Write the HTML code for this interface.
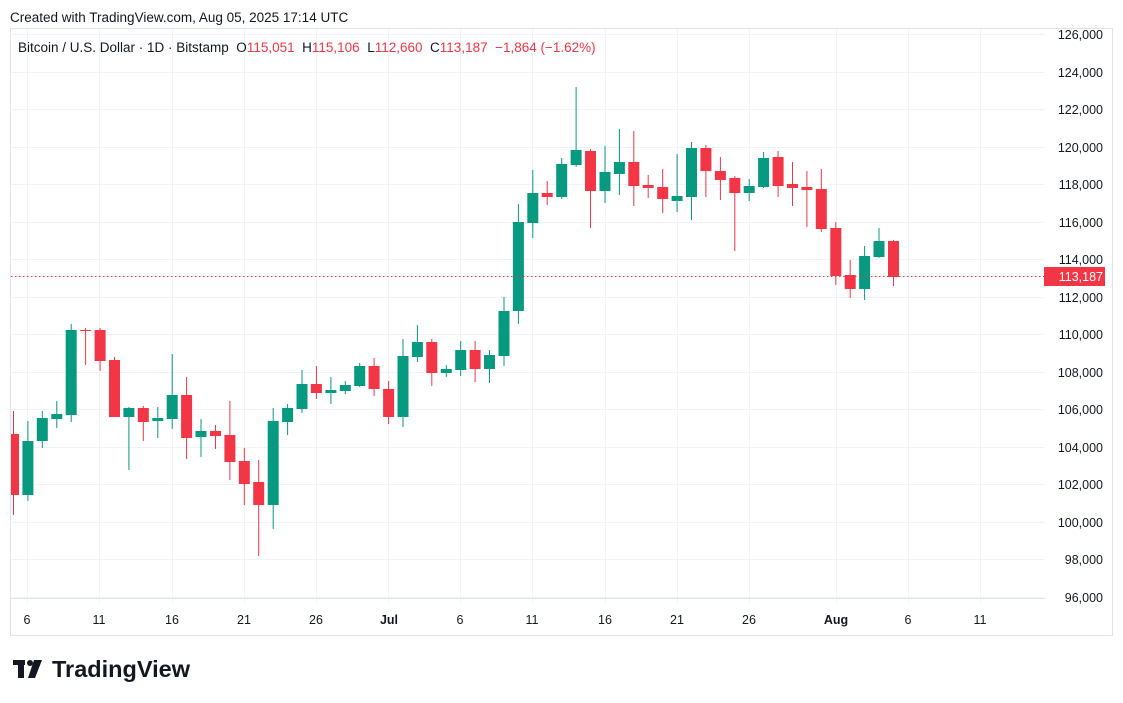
<!DOCTYPE html>
<html><head><meta charset="utf-8"><style>
html,body{margin:0;padding:0;background:#fff;width:1123px;height:703px;overflow:hidden}
svg{display:block;font-family:"Liberation Sans","DejaVu Sans",sans-serif}
.g{fill:#089981}.r{fill:#F23645}
.ax{font-size:12.5px;fill:#131722}
</style></head><body>
<svg width="1123" height="703" viewBox="0 0 1123 703" xmlns="http://www.w3.org/2000/svg">
<rect width="1123" height="703" fill="#fff"/>
<text x="10" y="22" font-size="13.5" fill="#131722">Created with TradingView.com, Aug 05, 2025 17:14 UTC</text>
<rect x="10.5" y="28.5" width="1102" height="607" fill="none" stroke="#e0e3eb"/>
<g stroke="#f0f3fa" stroke-width="1">
<line x1="11" x2="1045" y1="34.5" y2="34.5"/><line x1="11" x2="1045" y1="72.5" y2="72.5"/>
<line x1="11" x2="1045" y1="109.5" y2="109.5"/><line x1="11" x2="1045" y1="147.5" y2="147.5"/>
<line x1="11" x2="1045" y1="184.5" y2="184.5"/><line x1="11" x2="1045" y1="222.5" y2="222.5"/>
<line x1="11" x2="1045" y1="259.5" y2="259.5"/><line x1="11" x2="1045" y1="297.5" y2="297.5"/>
<line x1="11" x2="1045" y1="334.5" y2="334.5"/><line x1="11" x2="1045" y1="372.5" y2="372.5"/>
<line x1="11" x2="1045" y1="409.5" y2="409.5"/><line x1="11" x2="1045" y1="447.5" y2="447.5"/>
<line x1="11" x2="1045" y1="484.5" y2="484.5"/><line x1="11" x2="1045" y1="522.5" y2="522.5"/>
<line x1="11" x2="1045" y1="559.5" y2="559.5"/><line x1="11" x2="1045" y1="597.5" y2="597.5"/>
<line y1="29" y2="603" x1="27.5" x2="27.5"/><line y1="29" y2="603" x1="99.5" x2="99.5"/>
<line y1="29" y2="603" x1="172.5" x2="172.5"/><line y1="29" y2="603" x1="244.5" x2="244.5"/>
<line y1="29" y2="603" x1="316.5" x2="316.5"/><line y1="29" y2="603" x1="388.5" x2="388.5"/>
<line y1="29" y2="603" x1="460.5" x2="460.5"/><line y1="29" y2="603" x1="532.5" x2="532.5"/>
<line y1="29" y2="603" x1="605.5" x2="605.5"/><line y1="29" y2="603" x1="677.5" x2="677.5"/>
<line y1="29" y2="603" x1="749.5" x2="749.5"/><line y1="29" y2="603" x1="836.5" x2="836.5"/>
<line y1="29" y2="603" x1="908.5" x2="908.5"/><line y1="29" y2="603" x1="980.5" x2="980.5"/>
<line x1="11" x2="1045" y1="598.5" y2="598.5" stroke="#e0e3eb"/>
</g>
<text x="18" y="52" font-size="13.5" fill="#131722">Bitcoin / U.S. Dollar · 1D · Bitstamp&#160; O<tspan fill="#F23645">115,051</tspan>&#160; H<tspan fill="#F23645">115,106</tspan>&#160; L<tspan fill="#F23645">112,660</tspan>&#160; C<tspan fill="#F23645">113,187&#160; −1,864 (−1.62%)</tspan></text>
<svg x="11" y="29" width="1034" height="569" overflow="hidden"><g transform="translate(-11,-29)">
<rect class="r" x="13" y="411" width="1" height="104"/><rect class="r" x="8" y="434" width="11" height="61"/>
<rect class="g" x="27.4" y="421" width="1" height="80"/><rect class="g" x="22.4" y="441" width="11" height="54"/>
<rect class="g" x="41.8" y="411" width="1" height="37"/><rect class="g" x="36.8" y="418" width="11" height="23"/>
<rect class="g" x="56.3" y="401" width="1" height="27"/><rect class="g" x="51.3" y="414" width="11" height="5"/>
<rect class="g" x="70.7" y="324" width="1" height="98"/><rect class="g" x="65.7" y="330" width="11" height="85"/>
<rect class="r" x="85.1" y="328" width="1" height="37"/><rect class="r" x="80.1" y="330" width="11" height="1"/>
<rect class="r" x="99.6" y="328" width="1" height="43"/><rect class="r" x="94.6" y="330" width="11" height="31"/>
<rect class="r" x="114" y="357" width="1" height="60"/><rect class="r" x="109" y="360" width="11" height="57"/>
<rect class="g" x="128.4" y="407" width="1" height="63"/><rect class="g" x="123.4" y="408" width="11" height="9"/>
<rect class="r" x="142.8" y="406" width="1" height="35"/><rect class="r" x="137.8" y="408" width="11" height="14"/>
<rect class="g" x="157.3" y="407" width="1" height="31"/><rect class="g" x="152.3" y="418" width="11" height="3"/>
<rect class="g" x="171.7" y="354" width="1" height="75"/><rect class="g" x="166.7" y="395" width="11" height="24"/>
<rect class="r" x="186.1" y="377" width="1" height="82"/><rect class="r" x="181.1" y="395" width="11" height="43"/>
<rect class="g" x="200.5" y="419" width="1" height="38"/><rect class="g" x="195.5" y="431" width="11" height="6"/>
<rect class="r" x="215" y="425" width="1" height="24"/><rect class="r" x="210" y="431" width="11" height="5"/>
<rect class="r" x="229.4" y="401" width="1" height="79"/><rect class="r" x="224.4" y="435" width="11" height="27"/>
<rect class="r" x="243.8" y="448" width="1" height="57"/><rect class="r" x="238.8" y="461" width="11" height="23"/>
<rect class="r" x="258.2" y="460" width="1" height="96"/><rect class="r" x="253.2" y="482" width="11" height="23"/>
<rect class="g" x="272.7" y="408" width="1" height="121"/><rect class="g" x="267.7" y="421" width="11" height="84"/>
<rect class="g" x="287.1" y="404" width="1" height="31"/><rect class="g" x="282.1" y="408" width="11" height="14"/>
<rect class="g" x="301.5" y="370" width="1" height="43"/><rect class="g" x="296.5" y="384" width="11" height="25"/>
<rect class="r" x="315.9" y="366" width="1" height="33"/><rect class="r" x="310.9" y="384" width="11" height="9"/>
<rect class="g" x="330.4" y="377" width="1" height="27"/><rect class="g" x="325.4" y="390" width="11" height="3"/>
<rect class="g" x="344.8" y="381" width="1" height="13"/><rect class="g" x="339.8" y="385" width="11" height="6"/>
<rect class="g" x="359.2" y="363" width="1" height="24"/><rect class="g" x="354.2" y="366" width="11" height="20"/>
<rect class="r" x="373.6" y="358" width="1" height="38"/><rect class="r" x="368.6" y="366" width="11" height="23"/>
<rect class="r" x="388.1" y="381" width="1" height="43"/><rect class="r" x="383.1" y="389" width="11" height="28"/>
<rect class="g" x="402.5" y="339" width="1" height="88"/><rect class="g" x="397.5" y="356" width="11" height="61"/>
<rect class="g" x="416.9" y="325" width="1" height="37"/><rect class="g" x="411.9" y="342" width="11" height="15"/>
<rect class="r" x="431.3" y="339" width="1" height="47"/><rect class="r" x="426.3" y="342" width="11" height="31"/>
<rect class="g" x="445.8" y="365" width="1" height="12"/><rect class="g" x="440.8" y="369" width="11" height="4"/>
<rect class="g" x="460.2" y="341" width="1" height="35"/><rect class="g" x="455.2" y="350" width="11" height="20"/>
<rect class="r" x="474.6" y="341" width="1" height="41"/><rect class="r" x="469.6" y="350" width="11" height="19"/>
<rect class="g" x="489" y="350" width="1" height="33"/><rect class="g" x="484" y="355" width="11" height="14"/>
<rect class="g" x="503.5" y="297" width="1" height="69"/><rect class="g" x="498.5" y="311" width="11" height="45"/>
<rect class="g" x="517.9" y="204" width="1" height="120"/><rect class="g" x="512.9" y="222" width="11" height="89"/>
<rect class="g" x="532.3" y="170" width="1" height="68"/><rect class="g" x="527.3" y="193" width="11" height="30"/>
<rect class="r" x="546.7" y="181" width="1" height="24"/><rect class="r" x="541.7" y="193" width="11" height="4"/>
<rect class="g" x="561.2" y="158" width="1" height="41"/><rect class="g" x="556.2" y="164" width="11" height="33"/>
<rect class="g" x="575.6" y="87" width="1" height="80"/><rect class="g" x="570.6" y="150" width="11" height="15"/>
<rect class="r" x="590" y="149" width="1" height="79"/><rect class="r" x="585" y="151" width="11" height="40"/>
<rect class="g" x="604.5" y="146" width="1" height="57"/><rect class="g" x="599.5" y="172" width="11" height="19"/>
<rect class="g" x="618.9" y="129" width="1" height="66"/><rect class="g" x="613.9" y="162" width="11" height="12"/>
<rect class="r" x="633.3" y="131" width="1" height="75"/><rect class="r" x="628.3" y="162" width="11" height="24"/>
<rect class="r" x="647.7" y="175" width="1" height="23"/><rect class="r" x="642.7" y="185" width="11" height="3"/>
<rect class="r" x="662.2" y="169" width="1" height="44"/><rect class="r" x="657.2" y="187" width="11" height="12"/>
<rect class="g" x="676.6" y="154" width="1" height="58"/><rect class="g" x="671.6" y="196" width="11" height="5"/>
<rect class="g" x="691" y="142" width="1" height="78"/><rect class="g" x="686" y="148" width="11" height="49"/>
<rect class="r" x="705.4" y="145" width="1" height="52"/><rect class="r" x="700.4" y="148" width="11" height="23"/>
<rect class="r" x="719.9" y="157" width="1" height="43"/><rect class="r" x="714.9" y="171" width="11" height="9"/>
<rect class="r" x="734.3" y="176" width="1" height="75"/><rect class="r" x="729.3" y="178" width="11" height="15"/>
<rect class="g" x="748.7" y="179" width="1" height="22"/><rect class="g" x="743.7" y="186" width="11" height="7"/>
<rect class="g" x="763.1" y="152" width="1" height="36"/><rect class="g" x="758.1" y="158" width="11" height="29"/>
<rect class="r" x="777.6" y="151" width="1" height="46"/><rect class="r" x="772.6" y="157" width="11" height="29"/>
<rect class="r" x="792" y="162" width="1" height="44"/><rect class="r" x="787" y="184" width="11" height="4"/>
<rect class="r" x="806.4" y="171" width="1" height="56"/><rect class="r" x="801.4" y="187" width="11" height="3"/>
<rect class="r" x="820.8" y="169" width="1" height="63"/><rect class="r" x="815.8" y="189" width="11" height="40"/>
<rect class="r" x="835.3" y="222" width="1" height="63"/><rect class="r" x="830.3" y="228" width="11" height="48"/>
<rect class="r" x="849.7" y="260" width="1" height="38"/><rect class="r" x="844.7" y="275" width="11" height="14"/>
<rect class="g" x="864.1" y="246" width="1" height="54"/><rect class="g" x="859.1" y="256" width="11" height="33"/>
<rect class="g" x="878.5" y="228" width="1" height="30"/><rect class="g" x="873.5" y="241" width="11" height="16"/>
<rect class="r" x="893" y="240" width="1" height="46"/><rect class="r" x="888" y="241" width="11" height="36"/>
</g></svg>
<line x1="11" x2="1045" y1="276.5" y2="276.5" stroke="#F23645" stroke-width="1" stroke-dasharray="1.5,2.5"/>
<g class="ax" text-anchor="end">
<text x="1103" y="39">126,000</text><text x="1103" y="77">124,000</text>
<text x="1103" y="114">122,000</text><text x="1103" y="152">120,000</text>
<text x="1103" y="189">118,000</text><text x="1103" y="227">116,000</text>
<text x="1103" y="264">114,000</text><text x="1103" y="302">112,000</text>
<text x="1103" y="339">110,000</text><text x="1103" y="377">108,000</text>
<text x="1103" y="414">106,000</text><text x="1103" y="452">104,000</text>
<text x="1103" y="489">102,000</text><text x="1103" y="527">100,000</text>
<text x="1103" y="564">98,000</text><text x="1103" y="602">96,000</text>
</g>
<rect x="1044" y="267" width="61" height="19" fill="#F23645"/>
<text x="1103" y="281" font-size="12.5" fill="#fff" text-anchor="end">113,187</text>
<g class="ax" text-anchor="middle">
<text x="27" y="624">6</text><text x="99" y="624">11</text><text x="172" y="624">16</text>
<text x="244" y="624">21</text><text x="316" y="624">26</text><text x="389" y="624" font-weight="bold">Jul</text>
<text x="460" y="624">6</text><text x="532" y="624">11</text><text x="605" y="624">16</text>
<text x="677" y="624">21</text><text x="749" y="624">26</text><text x="836" y="624" font-weight="bold">Aug</text>
<text x="908" y="624">6</text><text x="980" y="624">11</text>
</g>
<g fill="#131722">
<rect x="13" y="660" width="12" height="5"/><rect x="18" y="660" width="6" height="18"/>
<circle cx="30" cy="663" r="3"/>
<polygon points="34,660 42,660 35,678 28,678"/>
</g>
<text x="52" y="677" font-size="23.5" font-weight="bold" fill="#131722">TradingView</text>
</svg>
</body></html>
